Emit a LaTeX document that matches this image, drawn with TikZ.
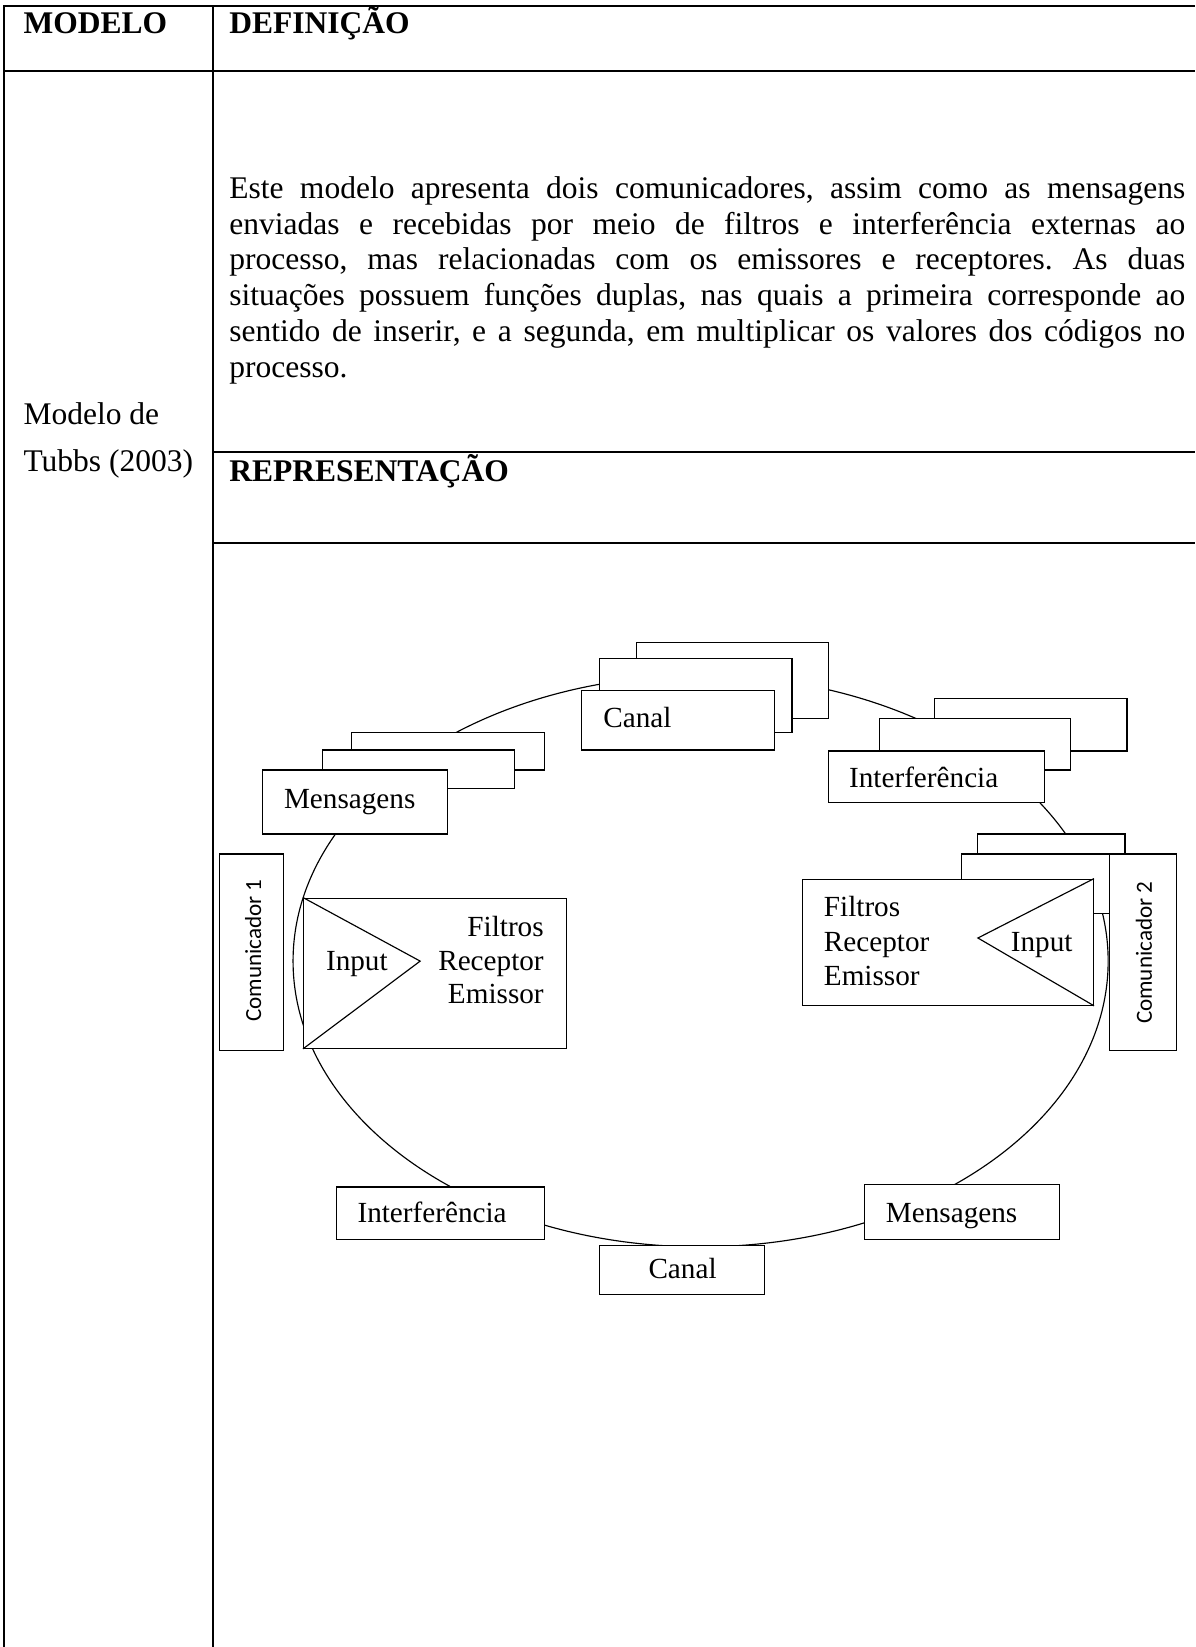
\documentclass[tikz,border=0pt]{standalone}
\usepackage{fontspec}
\setmainfont{Liberation Serif}
\newfontfamily\sidefont{Carlito}
\usetikzlibrary{fit}

% a white box spanning two corners: name, x1, y1, x2, y2
\newcommand\cardbox[5]{\node[card, fit={(#2,#3) (#4,#5)}] (#1) {};}

\begin{document}
\frenchspacing
\begin{tikzpicture}[x=0.5pt,y=-0.5pt,
  rule/.style={line width=0.9pt},
  dgm/.style={line width=0.55pt},
  card/.style={draw, fill=white, line width=0.55pt, inner sep=0pt},
  lbl/.style={font=\fontsize{13.9}{16}\selectfont, inner sep=0pt, anchor=base west},
  lblr/.style={lbl, anchor=base east},
  head/.style={font=\fontsize{15}{17}\selectfont\bfseries, inner sep=0pt, anchor=base west},
  body/.style={font=\fontsize{15}{17}\selectfont, inner sep=0pt, anchor=base west},
  side/.style={font=\sidefont\fontsize{11}{13}\selectfont, inner sep=0pt, rotate=90},
]
\useasboundingbox (0,0) rectangle (1138,1568);

% table rules
\draw[rule] (4,1568) -- (4,5.5) -- (1138,5.5);
\draw[rule] (4,68) -- (1138,68);
\draw[rule] (203,5.5) -- (203,1568);
\draw[rule] (203,430) -- (1138,430);
\draw[rule] (203,517) -- (1138,517);

% headings
\node[head] (hmod) at (22,32) {MODELO};
\node[head] (hdef) at (218,32) {DEFINIÇÃO};
\node[head] (hrep) at (218,458) {REPRESENTAÇÃO};

% model name
\node[body] (mod1) at (22,404) {Modelo de};
\node[body] (mod2) at (22,449) {Tubbs (2003)};

% definition paragraph
\node[body] (p1) at (218,189) {\makebox[455pt][s]{Este modelo apresenta dois comunicadores, assim como as mensagens}};
\node[body] (p2) at (218,223) {\makebox[455pt][s]{enviadas e recebidas por meio de filtros e interferência externas ao}};
\node[body] (p3) at (218,257) {\makebox[455pt][s]{processo, mas relacionadas com os emissores e receptores. As duas}};
\node[body] (p4) at (218,291) {\makebox[455pt][s]{situações possuem funções duplas, nas quais a primeira corresponde ao}};
\node[body] (p5) at (218,325) {\makebox[455pt][s]{sentido de inserir, e a segunda, em multiplicar os valores dos códigos no}};
\node[body] (p6) at (218,359) {processo.};

% the communication ring
\draw[dgm] (667,915) ellipse [x radius=194pt, y radius=136pt];

% channel stack (top)
\cardbox{canBk}{606}{612}{789}{684}
\cardbox{canMd}{571}{627}{754}{697}
\cardbox{canFr}{554}{657}{737}{714}
\node[lbl] (canT) at (574,693) {Canal};

% messages stack (top left)
\cardbox{menBk}{335}{697}{518}{733}
\cardbox{menMd}{307}{714}{490}{751}
\cardbox{menFr}{250}{733}{426}{794}
\node[lbl] (menT) at (270,770) {Mensagens};

% interference stack (top right)
\cardbox{intBk}{890}{665}{1073}{715}
\cardbox{intMd}{837}{684}{1019}{733}
\cardbox{intFr}{789}{715}{994}{764}
\node[lbl] (intT) at (808,750) {Interferência};

% communicator 2 group
\cardbox{rBk}{931}{794}{1071}{850}
\cardbox{rMd}{915}{813}{1056}{870}
\cardbox{comB}{1056}{813}{1120}{1000}
\cardbox{filB}{764}{837}{1041}{957}
\coordinate (tipB) at (931,893);
\draw[dgm] (filB.north east) -- (tipB) -- (filB.south east);
\node[lbl] (fB1) at (784,873) {Filtros};
\node[lbl] (fB2) at (784,906) {Receptor};
\node[lbl] (fB3) at (784,938) {Emissor};
\node[lbl] (inB) at (962,906) {Input};
\node[side] (comBT) at (1089,907) {Comunicador 2};

% communicator 1 group
\cardbox{comA}{209}{813}{270}{1000}
\cardbox{filA}{289}{855}{539}{998}
\coordinate (tipA) at (400,915);
\draw[dgm] (filA.north west) -- (tipA) -- (filA.south west);
\node[lblr] (fA1) at (518,892) {Filtros};
\node[lblr] (fA2) at (518,924) {Receptor};
\node[lblr] (fA3) at (518,955) {Emissor};
\node[lbl] (inA) at (310,924) {Input};
\node[side] (comAT) at (241,905) {Comunicador 1};

% bottom boxes
\cardbox{intC}{320}{1130}{518}{1180}
\node[lbl] (intCT) at (340,1164) {Interferência};
\cardbox{canC}{571}{1186}{728}{1232}
\node[lbl] (canCT) at (617,1217) {Canal};
\cardbox{menC}{823}{1128}{1009}{1180}
\node[lbl] (menCT) at (843,1164) {Mensagens};
\end{tikzpicture}
\end{document}
